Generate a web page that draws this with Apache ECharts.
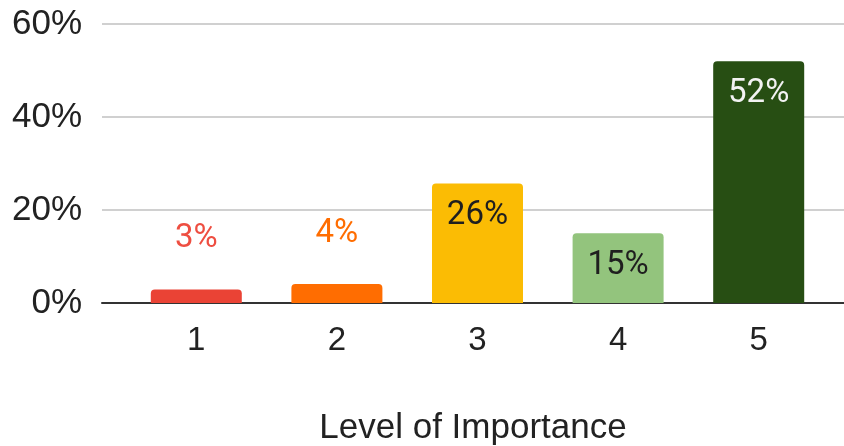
<!DOCTYPE html>
<html>
<head>
<meta charset="utf-8">
<script src="https://cdn.jsdelivr.net/npm/echarts@6/dist/echarts.min.js"></script>
<style>
html,body{margin:0;padding:0;background:#fff;}
#chart{width:844px;height:446px;}
</style>
</head>
<body>
<div id="chart"></div>
<script>
var categories = ['1', '2', '3', '4', '5'];
var shares = [2.9, 4.1, 25.7, 15.0, 52.0];
var axisTitle = 'Level of Importance';

var barColors = ['#ea4335', '#ff6d01', '#fbbc04', '#93c47d', '#274e13'];
var labelColors = ['#ee4e41', '#ff6d01', '#1f1f1f', '#1f1f1f', '#f2f2f2'];
var labelInside = [false, false, true, true, true];

var chart = echarts.init(document.getElementById('chart'));

var seriesData = shares.map(function (v, i) {
  return {
    value: v,
    itemStyle: { color: barColors[i] },
    label: {
      position: labelInside[i] ? 'insideTop' : 'top',
      distance: labelInside[i] ? 16 : 34,
      color: labelColors[i]
    }
  };
});

chart.setOption({
  animation: false,
  grid: [
    { left: 102, right: 0, top: 24, bottom: 143, containLabel: false, outerBoundsMode: 'none' },
    { left: 126, right: 15, top: 24, bottom: 143, containLabel: false, outerBoundsMode: 'none' }
  ],
  xAxis: [
    {
      gridIndex: 0, type: 'category', data: [''],
      axisLine: { show: true, lineStyle: { color: '#333', width: 2 } },
      axisTick: { show: false }, axisLabel: { show: false },
      name: axisTitle, nameLocation: 'middle', nameGap: 108,
      nameTextStyle: { fontFamily: 'Liberation Sans, Arial', fontSize: 35, color: '#222' }
    },
    {
      gridIndex: 1, type: 'category', data: categories,
      axisLine: { show: false }, axisTick: { show: false },
      axisLabel: { fontFamily: 'Liberation Sans, Arial', fontSize: 33, color: '#222', margin: 21 }
    }
  ],
  yAxis: [
    {
      gridIndex: 0, type: 'value', min: 0, max: 60, interval: 20,
      axisLine: { show: false }, axisTick: { show: false },
      axisLabel: { fontFamily: 'Liberation Sans, Arial', fontSize: 35, color: '#222', margin: 20,
        formatter: function (v) { return v + '%'; } },
      splitLine: { lineStyle: { color: '#d0d0d0', width: 2 } }
    },
    {
      gridIndex: 1, type: 'value', min: 0, max: 60, interval: 20,
      show: false, splitLine: { show: false }
    }
  ],
  series: [{
    type: 'bar',
    xAxisIndex: 1, yAxisIndex: 1,
    barWidth: 91,
    itemStyle: { borderRadius: [4, 4, 0, 0] },
    label: {
      show: true,
      fontFamily: 'Roboto',
      fontSize: 33,
      formatter: function (p) { return Math.round(p.value) + '%'; }
    },
    data: seriesData
  }]
});
</script>
</body>
</html>
